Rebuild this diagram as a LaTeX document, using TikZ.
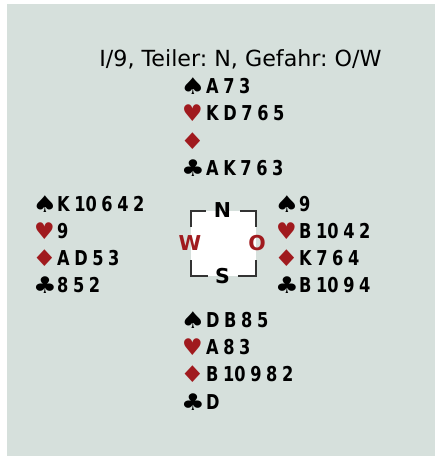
\documentclass[tikz,border=0pt]{standalone}
\usepackage{fontspec}
\usepackage{graphicx}
\setmainfont{DejaVu Sans}
\newfontfamily\cardfont{DejaVu Sans}[FakeStretch=0.79]
\newcommand\cardstyle{\cardfont\bfseries\fontsize{20.5}{20.5}\selectfont\spaceskip 4.6pt\relax}
\newcommand\spd{\scalebox{1.22}[1.0]{♠}}
\newcommand\hrt{♥}
\newcommand\dmd{\scalebox{1.2}[1.0]{♦}}
\newcommand\clb{\scalebox{1.15}[1.0]{♣}}
\definecolor{bg}{RGB}{214,224,220}
\definecolor{suitred}{RGB}{160,26,30}
\definecolor{brk}{RGB}{51,51,51}
\tikzset{
  cards/.style={anchor=base west, inner sep=0pt, font=\cardstyle},
  suit/.style={inner sep=0pt, font=\fontsize{23}{23}\selectfont},
  blacksuit/.style={suit, text=black},
  redsuit/.style={suit, text=suitred},
  compass/.style={inner sep=0pt, font=\bfseries\fontsize{20.5}{20.5}\selectfont},
  bracket/.style={draw=brk, line width=1.4pt},
}
\begin{document}
\frenchspacing
\begin{tikzpicture}[x=1pt, y=-1pt]
\fill[white] (0,0) rectangle (435,456);
\fill[bg] (7,4) rectangle (435,456);
\useasboundingbox (0,0) rectangle (435,456);

\node[anchor=base, inner sep=0pt, font=\fontsize{22.2}{22.2}\selectfont] (title) at (240.5,66) {I/9, Teiler: N, Gefahr: O/W};

% North
\node[blacksuit] (ns) at (193,86) {\spd};
\node[cards] (nst) at (206,93) {A 7 3};
\node[redsuit] (nh) at (192.5,113.5) {\hrt};
\node[cards] (nht) at (206,120.5) {K D 7 6 5};
\node[redsuit] (nd) at (192.5,141) {\dmd};
\node[blacksuit] (nc) at (193,168.5) {\clb};
\node[cards] (nct) at (206,175.5) {A K 7 6 3};

% West
\node[blacksuit] (ws) at (45,204) {\spd};
\node[cards] (wst) at (57,211) {K 10 6 4 2};
\node[redsuit] (wh) at (44.5,231) {\hrt};
\node[cards] (wht) at (57,238) {9};
\node[redsuit] (wd) at (44.5,258) {\dmd};
\node[cards] (wdt) at (57,265) {A D 5 3};
\node[blacksuit] (wc) at (45,285) {\clb};
\node[cards] (wct) at (57,292) {8 5 2};

% East
\node[blacksuit] (es) at (287,204) {\spd};
\node[cards] (est) at (299,211) {9};
\node[redsuit] (eh) at (286.5,231) {\hrt};
\node[cards] (eht) at (299,238) {B 10 4 2};
\node[redsuit] (ed) at (286.5,258) {\dmd};
\node[cards] (edt) at (299,265) {K 7 6 4};
\node[blacksuit] (ec) at (287,285) {\clb};
\node[cards] (ect) at (299,292) {B 10 9 4};

% South
\node[blacksuit] (ss) at (193,320) {\spd};
\node[cards] (sst) at (206,327) {D B 8 5};
\node[redsuit] (sh) at (192.5,347) {\hrt};
\node[cards] (sht) at (206,354) {A 8 3};
\node[redsuit] (sd) at (192.5,374) {\dmd};
\node[cards] (sdt) at (206,381) {B 10 9 8 2};
\node[blacksuit] (sc) at (193,402) {\clb};
\node[cards] (sct) at (206,409) {D};

% Compass
\fill[white] (191,211) rectangle (256,276);
\draw[bracket] (191,227) -- (191,211) -- (206,211);
\draw[bracket] (240,211) -- (256,211) -- (256,227);
\draw[bracket] (191,260) -- (191,276) -- (208,276);
\draw[bracket] (238,276) -- (256,276) -- (256,260);
\node[compass] (cn) at (222.5,210) {N};
\node[compass] (cs) at (222.5,276.5) {S};
\node[compass, text=suitred] (cw) at (190,243) {W};
\node[compass, text=suitred] (co) at (257,243) {O};
\end{tikzpicture}
\end{document}
